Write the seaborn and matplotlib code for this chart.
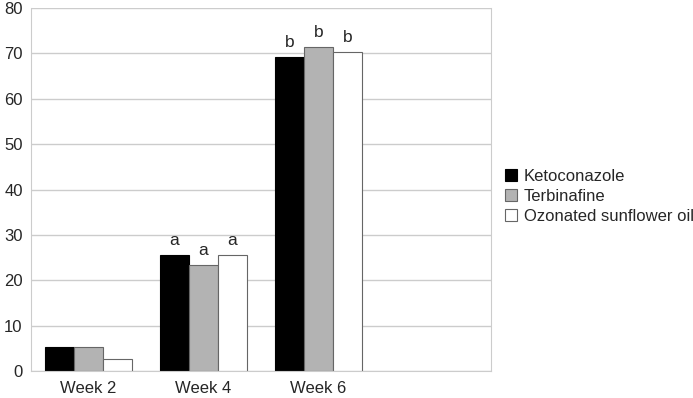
import pandas as pd
import matplotlib.pyplot as plt
import seaborn as sns
from matplotlib.patches import Patch

weeks = ['Week 2', 'Week 4', 'Week 6']
treatments = ['Ketoconazole', 'Terbinafine', 'Ozonated sunflower oil']
ketoconazole = [5.2, 25.6, 69.2]
terbinafine = [5.3, 23.4, 71.4]
ozonated_oil = [2.7, 25.6, 70.4]
letters = ['', 'a', 'b']

rows = []
for t, vals in zip(treatments, [ketoconazole, terbinafine, ozonated_oil]):
    for w, v in zip(weeks, vals):
        rows.append({'week': w, 'treatment': t, 'value': v})
df = pd.DataFrame(rows)

sns.set_style('white')
plt.rcParams['font.family'] = ['Liberation Sans', 'DejaVu Sans']

fig = plt.figure(figsize=(6.93, 3.98), dpi=100)
ax = fig.add_axes([0.0447, 0.0678, 0.664, 0.912])

colors = ['#000000', '#b3b3b3', '#ffffff']
edges = ['#000000', '#666666', '#666666']
sns.barplot(data=df, x='week', y='value', hue='treatment', order=weeks,
            hue_order=treatments, palette=colors, width=0.756, saturation=1,
            ax=ax, legend=False)

for cont, ec in zip(ax.containers, edges):
    for p in cont:
        p.set_edgecolor(ec)
        p.set_linewidth(0.8)
    ax.bar_label(cont, labels=letters, padding=5, fontsize=12.5)

ax.set_xlim(-0.5, 3.5)
ax.set_ylim(0, 80)
ax.set_yticks(range(0, 81, 10))
ax.yaxis.grid(True, color='#cccccc', linewidth=1)
ax.set_axisbelow(True)
ax.set_xlabel('')
ax.set_ylabel('')
ax.set_xticks([-0.5, 0.5, 1.5, 2.5, 3.5], minor=True)
ax.tick_params(axis='x', which='major', length=0, labelsize=12, pad=7)
ax.tick_params(axis='x', which='minor', length=5, color='#cccccc', width=1, direction='out')
ax.tick_params(axis='y', length=0, labelsize=12, pad=6)

for side in ['left', 'right']:
    ax.spines[side].set_color('#cccccc')
ax.spines['top'].set_visible(False)
ax.spines['bottom'].set_color('#cccccc')

handles = [Patch(facecolor=c, edgecolor=e, linewidth=0.8) for c, e in zip(colors, edges)]
fig.legend(handles, treatments, loc='center left', bbox_to_anchor=(0.728, 0.506),
           frameon=False, fontsize=12, handlelength=0.75, handleheight=0.75,
           handletextpad=0.4, labelspacing=0.3, borderaxespad=0, borderpad=0)

fig.savefig('out.png', dpi=100)
